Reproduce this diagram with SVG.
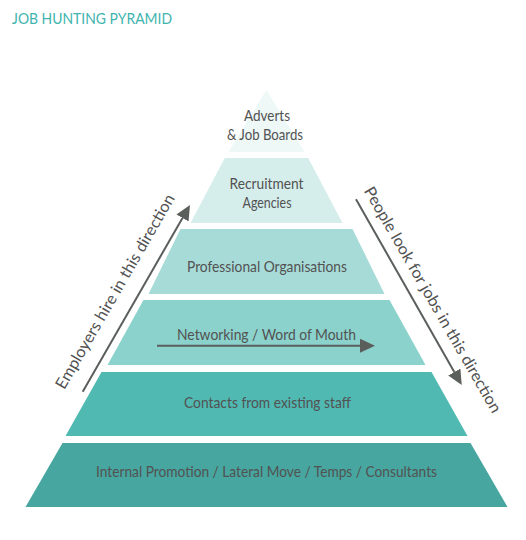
<svg xmlns="http://www.w3.org/2000/svg" width="526" height="540" viewBox="0 0 526 540">
  <defs>
    <marker id="head" markerUnits="userSpaceOnUse" markerWidth="15" markerHeight="14" refX="0" refY="7" orient="auto">
      <path d="M0,0 L15,7 L0,14 Z" fill="#5b5f5c"/>
    </marker>
  </defs>
  <style>
    text { font-family: "Lato", "Liberation Sans", sans-serif; fill: #525252; }
    .lbl { font-size: 15px; text-anchor: middle; }
    .dir { font-size: 16px; text-anchor: middle; }
    .title { font-size: 15px; fill: #40b4ae; }
    .arrow { stroke: #5b5f5c; stroke-width: 2; fill: none; marker-end: url(#head); }
  </style>
  <rect width="526" height="540" fill="#ffffff"/>
  <text class="title" x="12" y="24" textLength="160" lengthAdjust="spacingAndGlyphs">JOB HUNTING PYRAMID</text>

  <g id="layer-adverts">
    <polygon points="266.5,90 304.5,152 228.5,152" fill="#edf8f7"/>
    <text class="lbl" x="267" y="121" textLength="46" lengthAdjust="spacingAndGlyphs">Adverts</text>
    <text class="lbl" x="265" y="140" textLength="76" lengthAdjust="spacingAndGlyphs">&amp; Job Boards</text>
  </g>
  <g id="layer-recruitment">
    <polygon points="224.8,158 308.2,158 342.5,223 190.5,223" fill="#d5eeec"/>
    <text class="lbl" x="266.5" y="189" textLength="74" lengthAdjust="spacingAndGlyphs">Recruitment</text>
    <text class="lbl" x="267" y="208" textLength="49" lengthAdjust="spacingAndGlyphs">Agencies</text>
  </g>
  <g id="layer-professional">
    <polygon points="180.5,229 352.5,229 384.5,294 148.5,294" fill="#a7dbd7"/>
    <text class="lbl" x="267" y="272" textLength="160" lengthAdjust="spacingAndGlyphs">Professional Organisations</text>
  </g>
  <g id="layer-networking">
    <polygon points="143.5,300 389.5,300 425.5,365 107.5,365" fill="#8bd2cc"/>
    <text class="lbl" x="266.5" y="340" textLength="179" lengthAdjust="spacingAndGlyphs">Networking / Word of Mouth</text>
  </g>
  <g id="layer-contacts">
    <polygon points="101.5,372 431.5,372 467.5,436 65.5,436" fill="#50b9b2"/>
    <text class="lbl" x="267.5" y="408" textLength="167" lengthAdjust="spacingAndGlyphs">Contacts from existing staff</text>
  </g>
  <g id="layer-internal">
    <polygon points="62.5,443 470.5,443 507.5,507 25.5,507" fill="#47a69f"/>
    <text class="lbl" x="266.5" y="477" textLength="341" lengthAdjust="spacingAndGlyphs">Internal Promotion / Lateral Move / Temps / Consultants</text>
  </g>

  <g id="connectors">
    <line class="arrow" x1="82.7" y1="391.7" x2="182.5" y2="218"/>
    <line class="arrow" x1="157" y1="345.7" x2="360" y2="345.7"/>
    <line class="arrow" x1="356" y1="199.3" x2="454.3" y2="372"/>
    <text class="dir" transform="translate(115.5,291.7) rotate(-60)" x="0" y="5" textLength="222" lengthAdjust="spacingAndGlyphs">Employers hire in this direction</text>
    <text class="dir" transform="translate(432.4,300) rotate(60)" x="0" y="5" textLength="258" lengthAdjust="spacingAndGlyphs">People look for jobs in this direction</text>
  </g>
</svg>
